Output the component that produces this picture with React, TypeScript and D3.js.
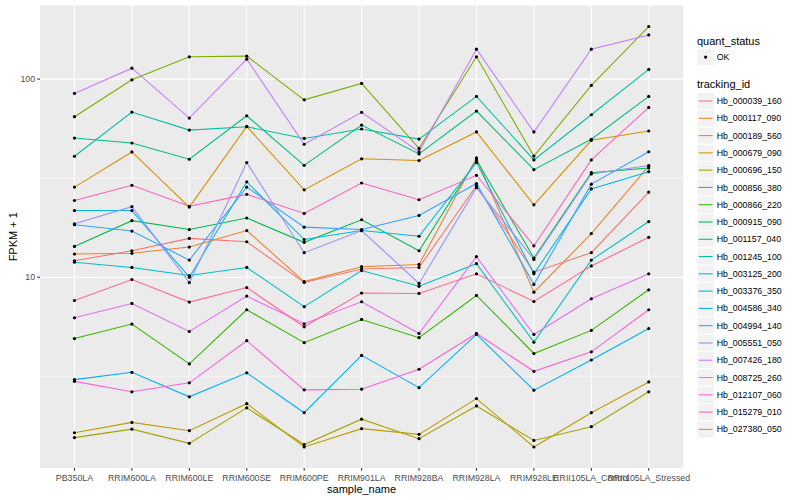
import React from "react";
import * as d3 from "d3";

const categories = [
  "PB350LA", "RRIM600LA", "RRIM600LE", "RRIM600SE", "RRIM600PE", "RRIM901LA",
  "RRIM928BA", "RRIM928LA", "RRIM928LE", "RRII105LA_Control", "RRII105LA_Stressed",
];

const trackingIds = [
  "Hb_000039_160", "Hb_000117_090", "Hb_000189_560", "Hb_000679_090", "Hb_000696_150",
  "Hb_000856_380", "Hb_000866_220", "Hb_000915_090", "Hb_001157_040", "Hb_001245_100",
  "Hb_003125_200", "Hb_003376_350", "Hb_004586_340", "Hb_004994_140", "Hb_005551_050",
  "Hb_007426_180", "Hb_008725_260", "Hb_012107_060", "Hb_015279_010", "Hb_027380_050",
];

// FPKM + 1 values, one array per tracking_id, in category order
const hb_000039_160 = [12.1, 13.6, 15.7, 15.1, 9.4, 11.0, 11.2, 29.0, 10.6, 13.3, 26.9];
const hb_000117_090 = [13.1, 13.2, 14.2, 17.2, 9.5, 11.3, 11.6, 40.0, 8.4, 16.6, 36.4];
const hb_000189_560 = [28.5, 42.9, 22.6, 57.7, 27.6, 39.6, 38.8, 54.1, 23.2, 49.1, 54.7];
const hb_000679_090 = [1.64, 1.85, 1.68, 2.3, 1.39, 1.72, 1.61, 2.44, 1.39, 2.07, 2.96];
const hb_000696_150 = [1.55, 1.71, 1.45, 2.19, 1.43, 1.92, 1.53, 2.24, 1.5, 1.76, 2.64];
const hb_000856_380 = [64.6, 99.2, 129.6, 130.6, 78.6, 95.1, 44.7, 129.6, 40.9, 92.9, 184.3];
const hb_000866_220 = [4.9, 5.8, 3.65, 6.85, 4.67, 6.12, 4.95, 8.09, 4.12, 5.39, 8.64];
const hb_000915_090 = [14.3, 19.3, 17.4, 19.9, 15.0, 19.5, 13.6, 39.1, 12.5, 33.7, 35.6];
const hb_001157_040 = [50.4, 47.6, 39.4, 65.3, 36.7, 58.6, 41.9, 69.0, 34.9, 49.7, 81.8];
const hb_001245_100 = [40.8, 68.2, 55.3, 57.5, 50.2, 56.0, 49.8, 81.8, 39.1, 66.1, 111.9];
const hb_003125_200 = [11.9, 11.2, 10.2, 11.2, 7.1, 10.8, 9.0, 11.7, 4.7, 12.2, 19.1];
const hb_003376_350 = [21.7, 21.7, 10.0, 30.3, 15.5, 17.2, 16.1, 37.9, 10.4, 27.9, 34.1];
const hb_004586_340 = [3.04, 3.31, 2.49, 3.29, 2.07, 4.03, 2.77, 5.14, 2.69, 3.82, 5.51];
const hb_004994_140 = [18.4, 17.1, 12.2, 28.5, 17.9, 17.4, 20.5, 29.7, 9.2, 29.5, 43.0];
const hb_005551_050 = [18.6, 22.7, 9.4, 37.9, 13.3, 17.2, 9.3, 28.3, 12.3, 33.2, 36.6];
const hb_007426_180 = [84.7, 113.6, 63.6, 126.1, 46.9, 68.0, 43.0, 141.6, 54.1, 141.6, 167.2];
const hb_008725_260 = [6.24, 7.37, 5.32, 8.03, 5.82, 7.52, 5.2, 12.7, 5.14, 7.78, 10.4];
const hb_012107_060 = [2.98, 2.64, 2.93, 4.78, 2.7, 2.72, 3.43, 5.2, 3.35, 4.2, 6.85];
const hb_015279_010 = [24.4, 29.1, 22.8, 26.2, 21.0, 29.9, 24.6, 32.7, 14.4, 39.1, 72.0];
const hb_027380_050 = [7.63, 9.74, 7.49, 8.87, 5.62, 8.32, 8.28, 10.4, 7.54, 11.4, 15.9];

const seriesValues = [
  hb_000039_160, hb_000117_090, hb_000189_560, hb_000679_090, hb_000696_150,
  hb_000856_380, hb_000866_220, hb_000915_090, hb_001157_040, hb_001245_100,
  hb_003125_200, hb_003376_350, hb_004586_340, hb_004994_140, hb_005551_050,
  hb_007426_180, hb_008725_260, hb_012107_060, hb_015279_010, hb_027380_050,
];

const yMajorTicks = [10, 100];
const yMinorTicks = [Math.pow(10, 0.5), Math.pow(10, 1.5)];

const palette = [
  "#F8766D", "#EA8331", "#D89000", "#C09B00", "#A3A500", "#7CAE00", "#39B600",
  "#00BB4E", "#00BF7D", "#00C1A3", "#00BFC4", "#00BAE0", "#00B0F6", "#35A2FF",
  "#9590FF", "#C77CFF", "#E76BF3", "#FA62DB", "#FF62BC", "#FF6C91",
];

const W = 800;
const H = 500;
const panel = { left: 40, right: 683.2, top: 5.5, bottom: 468 };
const FONT = "'Liberation Sans', Arial, Helvetica, sans-serif";

export default function App() {
  const x = d3
    .scalePoint<string>()
    .domain(categories)
    .range([panel.left, panel.right])
    .padding(0.6);

  const all = seriesValues.flat();
  const lo = Math.log10(d3.min(all) as number);
  const hi = Math.log10(d3.max(all) as number);
  const pad = (hi - lo) * 0.05;
  const y = d3
    .scaleLog()
    .domain([Math.pow(10, lo - pad), Math.pow(10, hi + pad)])
    .range([panel.bottom, panel.top]);

  const line = d3
    .line<number>()
    .x((_, i) => x(categories[i]) as number)
    .y((d) => y(d));

  const legendX = 697;
  const keySize = 17.28;
  const keyTop = 92.4;

  return (
    <div style={{ position: "fixed", left: 0, top: 0 }}>
      <svg width={W} height={H} style={{ display: "block", background: "#fff" }} fontFamily={FONT}>
        <rect
          x={panel.left}
          y={panel.top}
          width={panel.right - panel.left}
          height={panel.bottom - panel.top}
          fill="#EBEBEB"
        />
        {yMinorTicks.map((t) => (
          <line key={"mn" + t} x1={panel.left} x2={panel.right} y1={y(t)} y2={y(t)} stroke="#fff" strokeWidth={0.53} />
        ))}
        {yMajorTicks.map((t) => (
          <line key={"mj" + t} x1={panel.left} x2={panel.right} y1={y(t)} y2={y(t)} stroke="#fff" strokeWidth={1.07} />
        ))}
        {categories.map((c) => (
          <line key={"vx" + c} x1={x(c)} x2={x(c)} y1={panel.top} y2={panel.bottom} stroke="#fff" strokeWidth={1.07} />
        ))}

        {seriesValues.map((vals, si) => (
          <path key={"l" + si} d={line(vals) as string} fill="none" stroke={palette[si]} strokeWidth={1.07} />
        ))}
        {seriesValues.map((vals, si) =>
          vals.map((v, i) => (
            <circle key={"p" + si + "_" + i} cx={x(categories[i])} cy={y(v)} r={1.6} fill="#000" />
          ))
        )}

        {/* y axis */}
        {yMajorTicks.map((t) => (
          <g key={"yt" + t}>
            <line x1={panel.left - 2.74} x2={panel.left} y1={y(t)} y2={y(t)} stroke="#333" strokeWidth={1.07} />
            <text x={panel.left - 4.9} y={y(t)} dy="0.35em" textAnchor="end" fontSize={8.8} fill="#4D4D4D">
              {t}
            </text>
          </g>
        ))}
        {/* x axis */}
        {categories.map((c) => (
          <g key={"xt" + c}>
            <line x1={x(c)} x2={x(c)} y1={panel.bottom} y2={panel.bottom + 2.74} stroke="#333" strokeWidth={1.07} />
            <text x={x(c)} y={panel.bottom + 12.6} textAnchor="middle" fontSize={8.8} fill="#4D4D4D">
              {c}
            </text>
          </g>
        ))}
        <text x={(panel.left + panel.right) / 2} y={492.5} textAnchor="middle" fontSize={11} fill="#000">
          sample_name
        </text>
        <text
          transform={`translate(${13.5},${(panel.top + panel.bottom) / 2}) rotate(-90)`}
          textAnchor="middle"
          dy="0.35em"
          fontSize={11}
          fill="#000"
        >
          FPKM + 1
        </text>

        {/* legend: quant_status */}
        <text x={legendX} y={44.5} fontSize={11} fill="#000">quant_status</text>
        <rect x={legendX} y={48.4} width={keySize} height={keySize} fill="#F2F2F2" stroke="#fff" strokeWidth={1} />
        <circle cx={legendX + keySize / 2} cy={48.4 + keySize / 2} r={1.6} fill="#000" />
        <text x={716.7} y={48.4 + keySize / 2} dy="0.35em" fontSize={8.8} fill="#000">OK</text>

        {/* legend: tracking_id */}
        <text x={legendX} y={88} fontSize={11} fill="#000">tracking_id</text>
        {trackingIds.map((id, i) => {
          const ty = keyTop + i * keySize;
          return (
            <g key={"lg" + id}>
              <rect x={legendX} y={ty} width={keySize} height={keySize} fill="#F2F2F2" stroke="#fff" strokeWidth={1} />
              <line
                x1={legendX + 1.7}
                x2={legendX + keySize - 1.7}
                y1={ty + keySize / 2}
                y2={ty + keySize / 2}
                stroke={palette[i]}
                strokeWidth={1.07}
              />
              <text x={716.7} y={ty + keySize / 2} dy="0.35em" fontSize={8.8} fill="#000">
                {id}
              </text>
            </g>
          );
        })}
      </svg>
    </div>
  );
}
